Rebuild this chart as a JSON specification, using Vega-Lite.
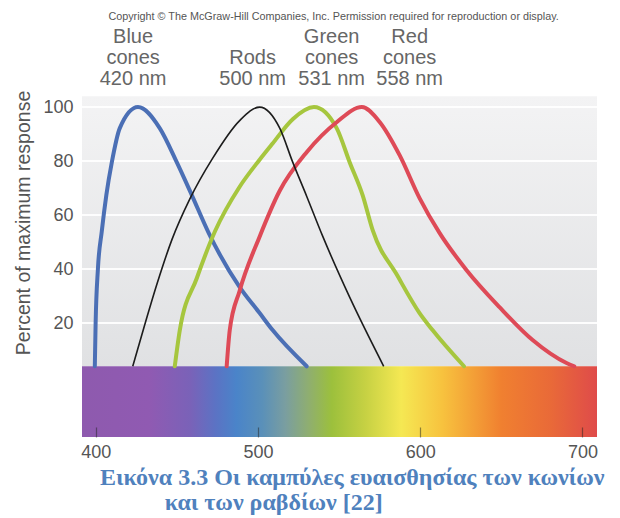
{
  "$schema": "https://vega.github.io/schema/vega-lite/v6.json",
  "width": 515,
  "height": 429,
  "autosize": {"type": "none"},
  "padding": {"left": 82, "top": 8, "right": 23, "bottom": 81},
  "background": "white",
  "config": {
    "view": {"stroke": null},
    "font": "Liberation Sans"
  },
  "title": {
    "text": ["Εικόνα 3.3 Οι καμπύλες ευαισθησίας των κωνίων", "\u200b\u2002\u2002\u2002\u2002\u2002\u2009και των ραβδίων [22]"],
    "orient": "bottom",
    "anchor": "start",
    "frame": "group",
    "font": "Liberation Serif",
    "fontSize": 24,
    "fontWeight": "bold",
    "color": "#4f81bd",
    "lineHeight": 25,
    "offset": 5,
    "dx": 18
  },
  "datasets": {
    "panel": [{"wl": 391.5, "wl2": 709, "r": 4, "r2": 104}],
    "bar": [{"wl": 391.5, "wl2": 709, "r": -22.2, "r2": 4}],
    "grid": [{"r": 20}, {"r": 40}, {"r": 60}, {"r": 80}, {"r": 100}],
    "labels": [
      {"wl": 423, "r": 125.9, "label": "Blue\ncones\n420 nm"},
      {"wl": 496.7, "r": 118.2, "label": "Rods\n500 nm"},
      {"wl": 545.4, "r": 125.9, "label": "Green\ncones\n531 nm"},
      {"wl": 593.5, "r": 125.9, "label": "Red\ncones\n558 nm"}
    ],
    "copyright": [{"wl": 546.6, "r": 133.3, "label": "Copyright © The McGraw-Hill Companies, Inc. Permission required for reproduction or display."}],
    "curves": [
      {"series": "Blue", "wl": 399.4, "r": 4},
      {"series": "Blue", "wl": 399.9, "r": 20},
      {"series": "Blue", "wl": 401.3, "r": 40},
      {"series": "Blue", "wl": 403.7, "r": 54},
      {"series": "Blue", "wl": 406.5, "r": 67.4},
      {"series": "Blue", "wl": 409.9, "r": 79.6},
      {"series": "Blue", "wl": 414.8, "r": 92.2},
      {"series": "Blue", "wl": 426, "r": 100},
      {"series": "Blue", "wl": 439.4, "r": 92.2},
      {"series": "Blue", "wl": 449.9, "r": 79.6},
      {"series": "Blue", "wl": 459.2, "r": 67.4},
      {"series": "Blue", "wl": 469.5, "r": 53.5},
      {"series": "Blue", "wl": 488.7, "r": 33.3},
      {"series": "Blue", "wl": 501, "r": 23.7},
      {"series": "Blue", "wl": 509, "r": 17.4},
      {"series": "Blue", "wl": 530, "r": 4},
      {"series": "Rods", "wl": 422.8, "r": 4},
      {"series": "Rods", "wl": 430, "r": 19},
      {"series": "Rods", "wl": 438, "r": 35},
      {"series": "Rods", "wl": 447, "r": 51},
      {"series": "Rods", "wl": 458, "r": 66},
      {"series": "Rods", "wl": 472, "r": 81},
      {"series": "Rods", "wl": 488.7, "r": 95},
      {"series": "Rods", "wl": 501, "r": 100},
      {"series": "Rods", "wl": 513.4, "r": 92.2},
      {"series": "Rods", "wl": 521.4, "r": 79.6},
      {"series": "Rods", "wl": 530, "r": 67},
      {"series": "Rods", "wl": 540, "r": 52},
      {"series": "Rods", "wl": 556.5, "r": 29.6},
      {"series": "Rods", "wl": 577.5, "r": 4},
      {"series": "Green", "wl": 448.7, "r": 4},
      {"series": "Green", "wl": 451.8, "r": 17.4},
      {"series": "Green", "wl": 462.2, "r": 36.5},
      {"series": "Green", "wl": 473.5, "r": 54},
      {"series": "Green", "wl": 488.7, "r": 70.5},
      {"series": "Green", "wl": 501, "r": 80.5},
      {"series": "Green", "wl": 509, "r": 86.5},
      {"series": "Green", "wl": 521.4, "r": 95.5},
      {"series": "Green", "wl": 534.5, "r": 100},
      {"series": "Green", "wl": 548.5, "r": 92.2},
      {"series": "Green", "wl": 556.5, "r": 79.6},
      {"series": "Green", "wl": 564.5, "r": 67.4},
      {"series": "Green", "wl": 570.7, "r": 54.4},
      {"series": "Green", "wl": 586, "r": 37.5},
      {"series": "Green", "wl": 599.6, "r": 23.7},
      {"series": "Green", "wl": 607.6, "r": 17.4},
      {"series": "Green", "wl": 627, "r": 4},
      {"series": "Red", "wl": 480.7, "r": 4},
      {"series": "Red", "wl": 482.6, "r": 17.4},
      {"series": "Red", "wl": 488.7, "r": 32},
      {"series": "Red", "wl": 501, "r": 52},
      {"series": "Red", "wl": 513.4, "r": 69},
      {"series": "Red", "wl": 530, "r": 83.3},
      {"series": "Red", "wl": 548.5, "r": 94.4},
      {"series": "Red", "wl": 564, "r": 100},
      {"series": "Red", "wl": 575, "r": 94.5},
      {"series": "Red", "wl": 587.3, "r": 82.2},
      {"series": "Red", "wl": 599.6, "r": 66.3},
      {"series": "Red", "wl": 612, "r": 53.3},
      {"series": "Red", "wl": 628.6, "r": 39.6},
      {"series": "Red", "wl": 648.9, "r": 25.9},
      {"series": "Red", "wl": 669.3, "r": 13.7},
      {"series": "Red", "wl": 690.2, "r": 5.2},
      {"series": "Red", "wl": 695, "r": 4}
    ]
  },
  "layer": [
    {
      "data": {"name": "curves"},
      "transform": [{"filter": "datum.series != 'Rods'"}],
      "mark": {"type": "line", "interpolate": "monotone", "strokeWidth": 4, "strokeCap": "round", "opacity": 0},
      "encoding": {
        "x": {
          "field": "wl", "type": "quantitative",
          "scale": {"domain": [391.5, 709], "nice": false, "zero": false},
          "axis": {
            "values": [400, 500, 600, 700], "title": null, "domain": false, "grid": false, "zindex": 1,
            "tickSize": -10, "tickColor": "#222222", "tickOpacity": 0.5, "tickWidth": 1.2,
            "labelFontSize": 18, "labelColor": "#555555", "labelPadding": 16, "labelFont": "Liberation Sans"
          }
        },
        "y": {
          "field": "r", "type": "quantitative",
          "scale": {"domain": [-22.2, 136.7], "nice": false, "zero": false},
          "axis": {
            "values": [20, 40, 60, 80, 100], "title": "Percent of maximum response", "domain": false, "grid": false,
            "ticks": false, "labelFontSize": 18, "labelColor": "#555555", "labelPadding": 9, "labelFont": "Liberation Sans",
            "titleFontSize": 19.5, "titleFontWeight": "normal", "titleColor": "#555555", "titleFont": "Liberation Sans", "titlePadding": 9
          }
        },
        "detail": {"field": "series", "type": "nominal"}
      }
    },
    {
      "data": {"name": "panel"},
      "mark": {
        "type": "rect",
        "fill": {
          "gradient": "linear", "x1": 0, "y1": 0, "x2": 0, "y2": 1,
          "stops": [
            {"offset": 0, "color": "#f3f3f4"},
            {"offset": 1, "color": "#e0e1e3"}
          ]
        }
      },
      "encoding": {
        "x": {"field": "wl", "type": "quantitative"},
        "x2": {"field": "wl2"},
        "y": {"field": "r", "type": "quantitative"},
        "y2": {"field": "r2"}
      }
    },
    {
      "data": {"name": "grid"},
      "mark": {"type": "rule", "color": "#ffffff", "strokeWidth": 2, "opacity": 0.9},
      "encoding": {
        "y": {"field": "r", "type": "quantitative"}
      }
    },
    {
      "data": {"name": "bar"},
      "mark": {
        "type": "rect",
        "fill": {
          "gradient": "linear", "x1": 0, "y1": 0, "x2": 1, "y2": 0,
          "stops": [
            {"offset": 0, "color": "#8e5aae"},
            {"offset": 0.13, "color": "#905ab2"},
            {"offset": 0.21, "color": "#7a62b8"},
            {"offset": 0.26, "color": "#5b73c4"},
            {"offset": 0.3, "color": "#4a84c9"},
            {"offset": 0.35, "color": "#5a90b9"},
            {"offset": 0.395, "color": "#7a9ea0"},
            {"offset": 0.44, "color": "#8fae70"},
            {"offset": 0.485, "color": "#9cc03c"},
            {"offset": 0.55, "color": "#c6d143"},
            {"offset": 0.62, "color": "#f5e853"},
            {"offset": 0.7, "color": "#f7c23e"},
            {"offset": 0.814, "color": "#f08030"},
            {"offset": 0.909, "color": "#e96a38"},
            {"offset": 1, "color": "#df4b4a"}
          ]
        }
      },
      "encoding": {
        "x": {"field": "wl", "type": "quantitative"},
        "x2": {"field": "wl2"},
        "y": {"field": "r", "type": "quantitative"},
        "y2": {"field": "r2"}
      }
    },
    {
      "data": {"name": "curves"},
      "transform": [{"filter": "datum.series != 'Rods'"}],
      "mark": {"type": "line", "interpolate": "monotone", "strokeWidth": 4, "strokeCap": "round"},
      "encoding": {
        "x": {"field": "wl", "type": "quantitative"},
        "y": {"field": "r", "type": "quantitative"},
        "color": {
          "field": "series", "type": "nominal", "legend": null,
          "scale": {"domain": ["Blue", "Green", "Red"], "range": ["#4b6fb5", "#a6c63e", "#de4a57"]}
        }
      }
    },
    {
      "data": {"name": "curves"},
      "transform": [{"filter": "datum.series == 'Rods'"}],
      "mark": {"type": "line", "interpolate": "monotone", "strokeWidth": 1.6, "color": "#1c1c1c"},
      "encoding": {
        "x": {"field": "wl", "type": "quantitative"},
        "y": {"field": "r", "type": "quantitative"}
      }
    },
    {
      "data": {"name": "labels"},
      "mark": {"type": "text", "align": "center", "baseline": "middle", "lineBreak": "\n", "lineHeight": 21, "fontSize": 20, "color": "#666666", "font": "Liberation Sans"},
      "encoding": {
        "x": {"field": "wl", "type": "quantitative"},
        "y": {"field": "r", "type": "quantitative"},
        "text": {"field": "label"}
      }
    },
    {
      "data": {"name": "copyright"},
      "mark": {"type": "text", "align": "center", "baseline": "middle", "fontSize": 10.8, "color": "#555555", "font": "Liberation Sans"},
      "encoding": {
        "x": {"field": "wl", "type": "quantitative"},
        "y": {"field": "r", "type": "quantitative"},
        "text": {"field": "label"}
      }
    }
  ]
}
